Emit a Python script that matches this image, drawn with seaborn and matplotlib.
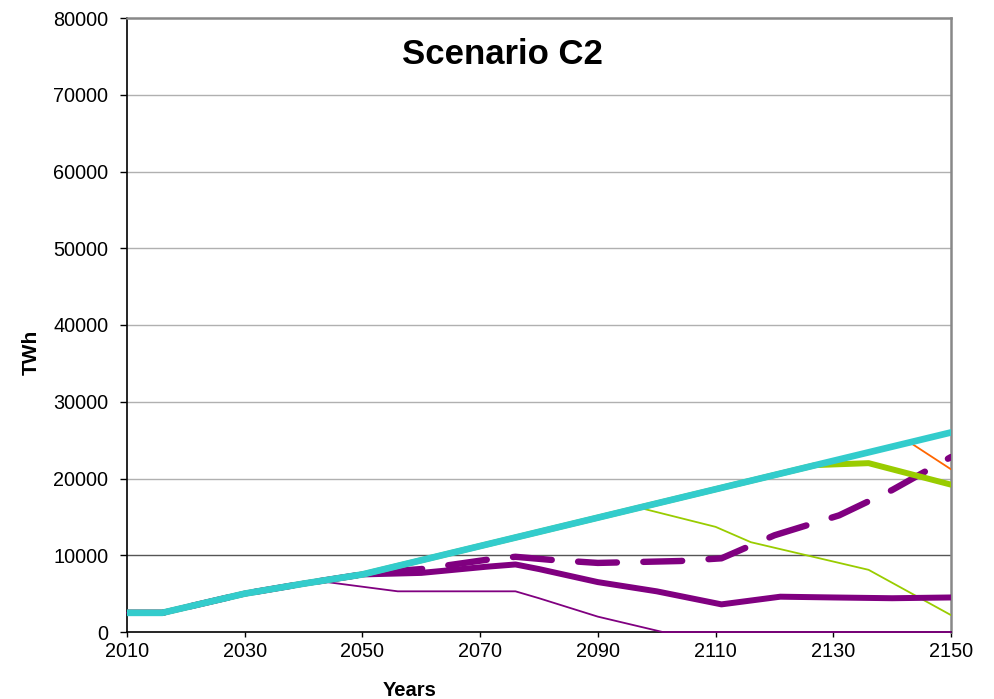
import numpy as np
import pandas as pd
import seaborn as sns
import matplotlib.pyplot as plt

# Values (TWh by year)
total_years = [2010, 2016, 2030, 2040, 2050, 2150]
total_twh = [2500, 2500, 5000, 6300, 7500, 26000]

orange_years = [2010, 2016, 2030, 2040, 2050, 2143, 2150]
orange_twh = [2500, 2500, 5000, 6300, 7500, 24700, 21200]

green_thick_years = [2010, 2016, 2030, 2040, 2050, 2127, 2136, 2150]
green_thick_twh = [2500, 2500, 5000, 6300, 7500, 21750, 22000, 19200]

green_thin_years = [2010, 2016, 2030, 2040, 2050, 2097, 2110, 2116, 2136, 2150]
green_thin_twh = [2500, 2500, 5000, 6300, 7500, 16200, 13700, 11700, 8100, 2200]

purple_dash_years = [2010, 2016, 2030, 2040, 2050, 2053, 2060, 2071, 2076, 2082,
                     2090, 2104, 2111, 2120, 2131, 2140, 2150]
purple_dash_twh = [2500, 2500, 5000, 6300, 7500, 7800, 8200, 9400, 9800, 9400,
                   9000, 9250, 9600, 12600, 15200, 18500, 22800]

purple_thick_years = [2010, 2016, 2030, 2040, 2050, 2060, 2071, 2076, 2080, 2090,
                      2100, 2111, 2121, 2130, 2140, 2150]
purple_thick_twh = [2500, 2500, 5000, 6300, 7500, 7700, 8500, 8800, 8200, 6500,
                    5300, 3600, 4600, 4500, 4400, 4500]

purple_thin_years = [2010, 2016, 2030, 2040, 2043, 2050, 2056, 2076, 2080, 2090, 2101, 2150]
purple_thin_twh = [2500, 2500, 5000, 6300, 6600, 5900, 5300, 5300, 4400, 2000, 0, 0]

x_ticks = [2010, 2030, 2050, 2070, 2090, 2110, 2130, 2150]
y_ticks = [0, 10000, 20000, 30000, 40000, 50000, 60000, 70000, 80000]

sns.set_style("white")
plt.rcParams['font.family'] = ['Liberation Sans', 'DejaVu Sans']
plt.rcParams['lines.scale_dashes'] = False
plt.rcParams['text.color'] = 'black'
plt.rcParams['xtick.color'] = 'black'
plt.rcParams['ytick.color'] = 'black'
plt.rcParams['axes.labelcolor'] = 'black'

fig = plt.figure(figsize=(9.94, 6.99), dpi=100)
ax = fig.add_axes([127 / 994, 67 / 699, 824 / 994, 614 / 699])

sns.lineplot(x=purple_thin_years, y=purple_thin_twh, ax=ax, color='#800080', linewidth=1.3,
             zorder=3, clip_on=False)
sns.lineplot(x=green_thin_years, y=green_thin_twh, ax=ax, color='#99CC00', linewidth=1.3, zorder=3)
sns.lineplot(x=purple_thick_years, y=purple_thick_twh, ax=ax, color='#800080', linewidth=4.3, zorder=4)
sns.lineplot(x=purple_dash_years, y=purple_dash_twh, ax=ax, color='#800080', linewidth=4.6,
             linestyle=(0.6, (28, 19)), dash_capstyle='round', zorder=5)
sns.lineplot(x=green_thick_years, y=green_thick_twh, ax=ax, color='#99CC00', linewidth=4.3, zorder=6)
sns.lineplot(x=orange_years, y=orange_twh, ax=ax, color='#FF6600', linewidth=1.3, zorder=7)
sns.lineplot(x=total_years, y=total_twh, ax=ax, color='#33CCCC', linewidth=4.8, zorder=8)

ax.set_xlim(2010, 2150)
ax.set_ylim(0, 80000)
ax.set_xticks(x_ticks)
ax.set_yticks(y_ticks)
ax.tick_params(axis='both', labelsize=14.3, width=1, direction='out', bottom=True, left=True)
ax.tick_params(axis='x', length=3.5, pad=4)
ax.tick_params(axis='y', length=5, pad=8.5)

# horizontal gridlines
for v in y_ticks[1:-1]:
    ax.axhline(v, color='#555555' if v == 10000 else '#b0b0b0', linewidth=1, zorder=1)

for side in ['left', 'bottom']:
    ax.spines[side].set_color('black')
    ax.spines[side].set_linewidth(1.2)
for side in ['top', 'right']:
    ax.spines[side].set_color('#888888')
    ax.spines[side].set_linewidth(1.8)

ax.set_xlabel('Years', fontsize=14.5, fontweight='bold')
ax.set_ylabel('TWh', fontsize=15, fontweight='bold')
ax.xaxis.set_label_coords((410 - 127) / 824, -0.0798)
ax.yaxis.set_label_coords(-0.105, 0.456)

ax.text(0.456, 0.94, 'Scenario C2', transform=ax.transAxes, ha='center', va='center',
        fontsize=25, fontweight='bold')

plt.savefig('out.png', dpi=100)
